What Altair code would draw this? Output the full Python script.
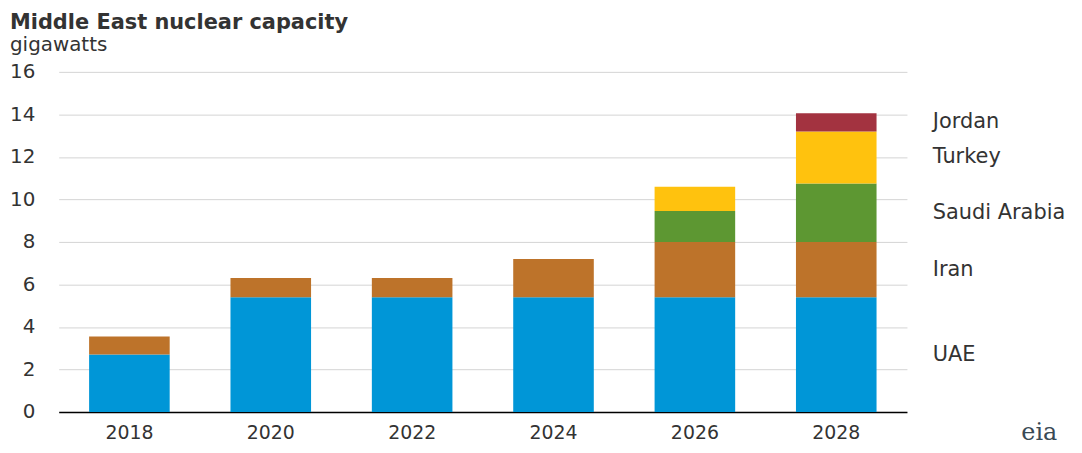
import altair as alt
import pandas as pd

# ---- data ----
years = ["2018", "2020", "2022", "2024", "2026", "2028"]
countries = ["UAE", "Iran", "Saudi Arabia", "Turkey", "Jordan"]
uae = [2.7, 5.4, 5.4, 5.4, 5.4, 5.4]
iran = [0.85, 0.9, 0.9, 1.8, 2.6, 2.6]
saudi = [0, 0, 0, 0, 1.45, 2.75]
turkey = [0, 0, 0, 0, 1.15, 2.45]
jordan = [0, 0, 0, 0, 0, 0.85]
colors = ["#0096d7", "#bd732a", "#5d9732", "#ffc20e", "#a33340"]
y_ticks = [0, 2, 4, 6, 8, 10, 12, 14, 16]
title_text = "Middle East nuclear capacity"
subtitle_text = "gigawatts"
logo_text = "eia"

series = [uae, iran, saudi, turkey, jordan]
rows = []
for ci, (c, vals) in enumerate(zip(countries, series)):
    for yr, v in zip(years, vals):
        if v > 0:
            rows.append({"year": yr, "country": c, "value": v, "ord": ci})
df = pd.DataFrame(rows)

# label anchors: midpoints of the segments of the last bar
mids, cum = [], 0.0
for s in series:
    mids.append(cum + s[-1] / 2)
    cum += s[-1]
lab = pd.DataFrame({"country": countries, "mid": mids})

W, H = 853, 342
FONT = "DejaVu Sans"
TXT = "#333333"

bars = alt.Chart(df).mark_bar().encode(
    x=alt.X(
        "year:N",
        sort=years,
        scale=alt.Scale(paddingInner=0.43, paddingOuter=0.215),
        axis=alt.Axis(
            title=None, labelAngle=0, ticks=False, tickSize=0, labelPadding=12,
            labelFont=FONT, labelFontSize=19, labelColor=TXT,
            domainColor="#000000", domainWidth=1.5, grid=False,
        ),
    ),
    y=alt.Y(
        "value:Q",
        stack="zero",
        scale=alt.Scale(domain=[0, 16], nice=False),
        axis=alt.Axis(
            title=None, values=y_ticks, domain=False, ticks=False, tickSize=0,
            labelPadding=24, labelFont=FONT, labelFontSize=20, labelColor=TXT,
            gridColor="#d4d4d4", gridWidth=1,
        ),
    ),
    color=alt.Color("country:N", scale=alt.Scale(domain=countries, range=colors), legend=None),
    order=alt.Order("ord:Q"),
)

labels = alt.Chart(lab).mark_text(
    align="left", baseline="middle", font=FONT, fontSize=21, color=TXT
).encode(
    x=alt.value(W + 26),
    y=alt.Y("mid:Q"),
    text="country:N",
)

title = alt.Chart(pd.DataFrame({"t": [title_text]})).mark_text(
    align="left", baseline="alphabetic", font=FONT, fontSize=21, fontWeight="bold", color=TXT
).encode(x=alt.value(-49), y=alt.value(-43), text="t:N")

subtitle = alt.Chart(pd.DataFrame({"t": [subtitle_text]})).mark_text(
    align="left", baseline="alphabetic", font=FONT, fontSize=20, color=TXT
).encode(x=alt.value(-49), y=alt.value(-21), text="t:N")

logo = alt.Chart(pd.DataFrame({"t": [logo_text]})).mark_text(
    align="left", baseline="alphabetic", font="DejaVu Serif", fontSize=24, color="#3a4a55"
).encode(x=alt.value(968), y=alt.value(370), text="t:N")

chart = alt.layer(bars, labels, title, subtitle, logo).properties(
    width=W,
    height=H,
    autosize=alt.AutoSizeParams(type="none"),
    padding={"left": 51, "top": 63, "right": 1072 - 51 - W, "bottom": 437 - 63 - H},
).configure_view(stroke=None)

chart.save("out.html", embed_options={"renderer": "svg", "actions": False})
